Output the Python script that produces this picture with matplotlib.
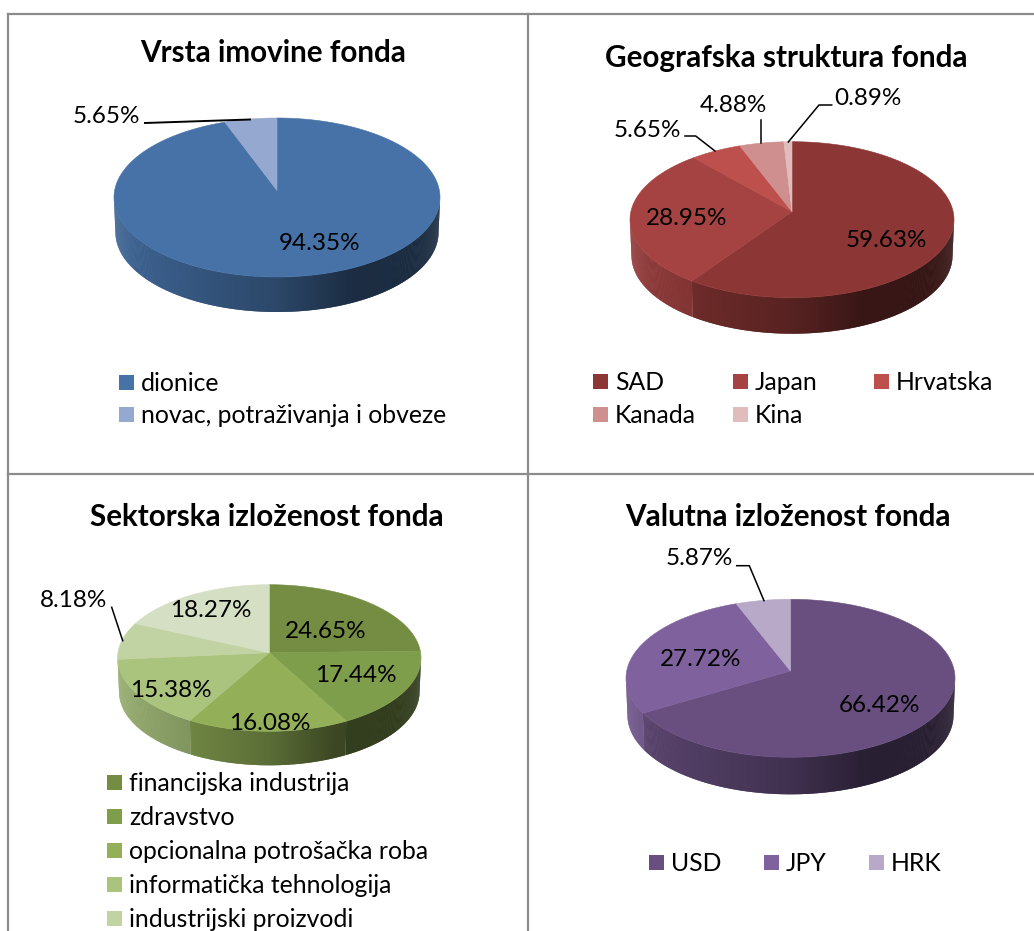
import numpy as np
import matplotlib
matplotlib.use('Agg')
import matplotlib.pyplot as plt
from matplotlib.patches import Rectangle
from matplotlib.colors import to_rgb

plt.rcParams['font.family'] = ['Lato', 'DejaVu Sans']

# data
asset_title = 'Vrsta imovine fonda'
asset_names = ['dionice', 'novac, potraživanja i obveze']
asset_values = [94.35, 5.65]

geo_title = 'Geografska struktura fonda'
geo_names = ['SAD', 'Japan', 'Hrvatska', 'Kanada', 'Kina']
geo_values = [59.63, 28.95, 5.65, 4.88, 0.89]

sector_title = 'Sektorska izloženost fonda'
sector_names = ['financijska industrija', 'zdravstvo', 'opcionalna potrošačka roba',
                'informatička tehnologija', 'industrijski proizvodi']
sector_values = [24.65, 17.44, 16.08, 15.38, 8.18, 18.27]

currency_title = 'Valutna izloženost fonda'
currency_names = ['USD', 'JPY', 'HRK']
currency_values = [66.42, 27.72, 5.87]

# colours
asset_colors = ['#4672A8', '#94A8D0']
geo_colors = ['#8C3735', '#A54342', '#BD4F4D', '#CF8F8E', '#E0BDBC']
sector_colors = ['#748D42', '#7F9E4C', '#93B058', '#AAC47E', '#C1D2A3', '#D5DFC3']
currency_colors = ['#684F80', '#7F619D', '#B7A9C7']

W, H = 1034, 931
fig = plt.figure(figsize=(W / 100, H / 100), dpi=100)
ax = fig.add_axes([0, 0, 1, 1])
ax.set_xlim(0, W)
ax.set_ylim(H, 0)
ax.axis('off')


def shade(color, theta):
    # walls go dark from left to right
    t = (np.sin(theta) + 1) / 2
    f = np.interp(t, [0, 0.5, 0.72, 1], [0.88, 0.62, 0.4, 0.38])
    return tuple(c * f for c in to_rgb(color))


def pie3d(values, colors, cx, cy, rx, ry, depth, apex):
    edges = np.radians(np.cumsum([0] + list(values)) / np.sum(values) * 360)
    # perspective: the centre moves up to the apex and the rim points follow it
    a = (cy - apex) / ry
    u = np.sin(edges) * np.sqrt(1 - a * a) / (1 + a * np.cos(edges))
    v = (np.cos(edges) + a) / (1 + a * np.cos(edges))
    edges = np.arctan2(u, v) % (2 * np.pi)
    edges[0] = 0
    edges[-1] = 2 * np.pi
    # walls first, only the front half shows
    for i, color in enumerate(colors):
        a0 = max(edges[i], np.pi / 2)
        a1 = min(edges[i + 1], 3 * np.pi / 2)
        if a1 <= a0:
            continue
        n = max(2, int((a1 - a0) * rx))
        steps = np.linspace(a0, a1, n)
        d = steps[1] - steps[0]
        for s0 in steps[:-1]:
            # strips overlap the next one so no seams show
            s1 = min(s0 + 2 * d, a1)
            xs = [cx + rx * np.sin(s0), cx + rx * np.sin(s1),
                  cx + (rx - 1.5) * np.sin(s1), cx + (rx - 1.5) * np.sin(s0)]
            ys = [cy - ry * np.cos(s0), cy - ry * np.cos(s1),
                  cy + depth - ry * np.cos(s1), cy + depth - ry * np.cos(s0)]
            ax.fill(xs, ys, color=shade(color, s0 + d / 2), lw=0, zorder=2)
    # top face
    for i, color in enumerate(colors):
        n = max(3, int((edges[i + 1] - edges[i]) * 80))
        th = np.linspace(edges[i], edges[i + 1], n)
        xs = np.r_[cx, cx + rx * np.sin(th)]
        ys = np.r_[apex, cy - ry * np.cos(th)]
        ax.fill(xs, ys, color=color, lw=0.4, zorder=3)


def label(x, y, s, size=17.5, **kw):
    ax.text(x, y + 1.5, s, fontsize=size, va='center', zorder=5, color='black', **kw)


def legend(names, colors, xs, ys):
    for name, color, x, y in zip(names, colors, xs, ys):
        ax.add_patch(Rectangle((x, y - 7.5), 15, 15, color=color, lw=0, zorder=3))
        label(x + 22, y, name, size=17.8, ha='left')


def title(x, y, s):
    label(x, y, s, size=21.3, fontweight='bold', ha='center')


def pct(v):
    return f'{v:.2f}%'


# table lines
for x in [8, 528.3]:
    ax.plot([x, x], [14, H], color='#8C8C8C', lw=1.6, zorder=1)
for y in [14, 473.7]:
    ax.plot([8, W], [y, y], color='#8C8C8C', lw=1.6, zorder=1)

# panel 1
title(272.7, 52, asset_title)
pie3d(asset_values, asset_colors, 277, 197.5, 163, 79.5, 35, 190.5)
ax.plot([145, 250], [123, 119.5], color='black', lw=1.4, zorder=4)
for v, x, y in zip(asset_values, [320, 106.7], [241.7, 115]):
    label(x, y, pct(v), ha='center')
legend(asset_names, asset_colors, [119, 119], [382, 414.3])

# panel 2
title(786.7, 56.7, geo_title)
pie3d(geo_values, geo_colors, 792, 219.7, 162, 78, 36, 211.7)
ax.plot([685, 695.7, 715], [136, 136, 151], color='black', lw=1.1, zorder=4)
ax.plot([761.3, 761.3], [120, 143], color='black', lw=1.1, zorder=4)
ax.plot([831.7, 819, 788.3], [105, 105, 142], color='black', lw=1.1, zorder=4)
for v, x, y in zip(geo_values, [886, 686.7, 647.3, 733.3, 868.3], [239, 216.7, 129, 104, 97.3]):
    label(x, y, pct(v), ha='center')
legend(geo_names, geo_colors, [593, 733, 874, 593, 733], [381.5, 381.5, 381.5, 414.3, 414.3])

# panel 3
title(267.3, 515, sector_title)
pie3d(sector_values, sector_colors, 269.3, 658, 151.7, 73.3, 34, 652.7)
ax.plot([111.7, 122.7], [607.3, 640.7], color='black', lw=1.1, zorder=4)
for v, x, y in zip(sector_values, [326, 356, 269.3, 171, 74, 210.7], [630, 674, 721.7, 689, 599, 609]):
    label(x, y, pct(v), ha='center')
legend(sector_names, sector_colors, [107] * 5, [782.3, 816, 850, 884, 918])

# panel 4
title(787.7, 515, currency_title)
pie3d(currency_values, currency_colors, 790.5, 678.3, 164.5, 79, 37, 671)
ax.plot([736.7, 749.3, 764], [565.7, 565.7, 600.7], color='black', lw=1.1, zorder=4)
for v, x, y in zip(currency_values, [880, 700.3, 699], [704.3, 658.3, 557.3]):
    label(x, y, pct(v), ha='center')
legend(currency_names, currency_colors, [649, 764, 869], [862.3] * 3)

fig.savefig('out.png', dpi=100)
